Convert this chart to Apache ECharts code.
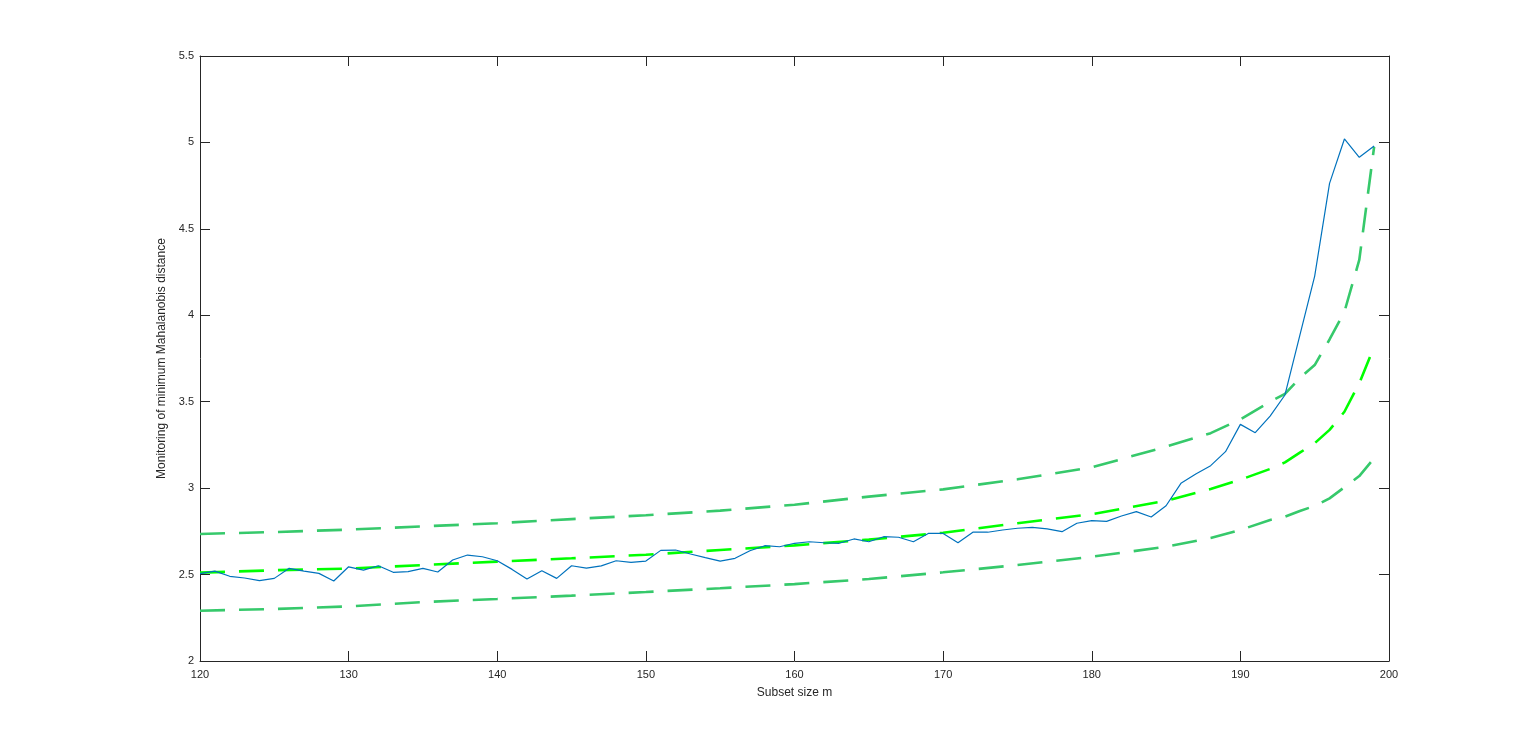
<!DOCTYPE html>
<html>
<head>
<meta charset="utf-8">
<script src="https://cdn.jsdelivr.net/npm/echarts@6/dist/echarts.min.js"></script>
<style>
html,body{margin:0;padding:0;background:#fff;}
#chart{width:1536px;height:744px;}
</style>
</head>
<body>
<div id="chart"></div>
<script>
// Subset size m for the monitored statistic
const subsetSize = [120,121,122,123,124,125,126,127,128,129,130,131,132,133,134,135,136,137,138,139,
  140,141,142,143,144,145,146,147,148,149,150,151,152,153,154,155,156,157,158,159,
  160,161,162,163,164,165,166,167,168,169,170,171,172,173,174,175,176,177,178,179,
  180,181,182,183,184,185,186,187,188,189,190,191,192,193,194,195,196,197,198,199];
// Minimum Mahalanobis distance
const minMD = [2.505,2.52,2.49,2.48,2.465,2.478,2.536,2.52,2.507,2.463,2.545,2.526,2.551,2.513,2.517,2.536,2.515,2.584,2.613,2.603,
  2.58,2.53,2.474,2.522,2.478,2.551,2.537,2.55,2.58,2.571,2.578,2.64,2.642,2.619,2.598,2.578,2.594,2.638,2.667,2.661,
  2.681,2.69,2.684,2.681,2.706,2.69,2.719,2.716,2.69,2.738,2.738,2.684,2.745,2.745,2.758,2.768,2.773,2.764,2.748,2.797,
  2.812,2.808,2.839,2.864,2.833,2.898,3.028,3.082,3.13,3.211,3.369,3.321,3.417,3.539,3.884,4.227,4.763,5.02,4.914,4.979];

// Envelope positions (m) at which envelope values were read
const envM = [120,125,130,135,140,145,150,155,160,165,170,175,180,185,188,190,192,193,194,195,196,197,198,199];
const envUpper = [2.735,2.746,2.76,2.779,2.797,2.821,2.843,2.87,2.904,2.951,2.993,3.051,3.12,3.24,3.318,3.398,3.5,3.545,3.637,3.712,3.86,4.02,4.32,4.975];
const envMiddle = [2.511,2.525,2.535,2.555,2.575,2.594,2.615,2.642,2.669,2.702,2.742,2.797,2.849,2.927,2.995,3.049,3.111,3.149,3.205,3.26,3.337,3.442,3.607,3.818];
const envLower = [2.291,2.301,2.316,2.341,2.359,2.378,2.399,2.421,2.445,2.474,2.513,2.555,2.603,2.661,2.712,2.758,2.816,2.835,2.868,2.897,2.941,3.005,3.07,3.173];

const xTicks = {min:120, max:200, interval:10};
const yTicks = {min:2, max:5.5, interval:0.5};

const pair = (xs, ys) => xs.map((x, i) => [x, ys[i]]);

const textColor = '#262626';
const fontFamily = '"Liberation Sans", Arial, Helvetica, sans-serif';
const axisLine = {show:true, lineStyle:{color:'#262626', width:1}};
const axisTick = {show:true, inside:true, length:10, lineStyle:{color:'#262626', width:1}};

const chart = echarts.init(document.getElementById('chart'), null, {renderer:'canvas'});
chart.setOption({
  animation:false,
  backgroundColor:'#ffffff',
  grid:{left:200, right:147, top:56, bottom:83, containLabel:false},
  xAxis:[{
    type:'value', min:xTicks.min, max:xTicks.max, interval:xTicks.interval, position:'bottom',
    axisLine, axisTick, splitLine:{show:false},
    axisLabel:{color:textColor, fontSize:11, fontFamily, margin:8},
    name:'Subset size m', nameLocation:'middle', nameGap:26,
    nameTextStyle:{color:textColor, fontSize:12, fontFamily}
  },{
    type:'value', min:xTicks.min, max:xTicks.max, interval:xTicks.interval, position:'top',
    axisLine, axisTick, axisLabel:{show:false}, splitLine:{show:false}
  }],
  yAxis:[{
    type:'value', min:yTicks.min, max:yTicks.max, interval:yTicks.interval, position:'left',
    axisLine, axisTick, splitLine:{show:false},
    axisLabel:{color:textColor, fontSize:11, fontFamily, margin:6},
    name:'Monitoring of minimum Mahalanobis distance', nameLocation:'middle', nameGap:32,
    nameTextStyle:{color:textColor, fontSize:12, fontFamily}
  },{
    type:'value', min:yTicks.min, max:yTicks.max, interval:yTicks.interval, position:'right',
    axisLine, axisTick, axisLabel:{show:false}, splitLine:{show:false}
  }],
  series:[
    {type:'line', data:pair(envM, envUpper), showSymbol:false, smooth:false,
     lineStyle:{color:'#36c96b', width:2.6, type:[25,14]}, z:2},
    {type:'line', data:pair(envM, envMiddle), showSymbol:false, smooth:false,
     lineStyle:{color:'#00ff00', width:2.6, type:[25,14]}, z:2},
    {type:'line', data:pair(envM, envLower), showSymbol:false, smooth:false,
     lineStyle:{color:'#36c96b', width:2.6, type:[25,14]}, z:2},
    {type:'line', data:pair(subsetSize, minMD), showSymbol:false, smooth:false,
     lineStyle:{color:'#0072bd', width:1.2}, z:3}
  ]
});
</script>
</body>
</html>
